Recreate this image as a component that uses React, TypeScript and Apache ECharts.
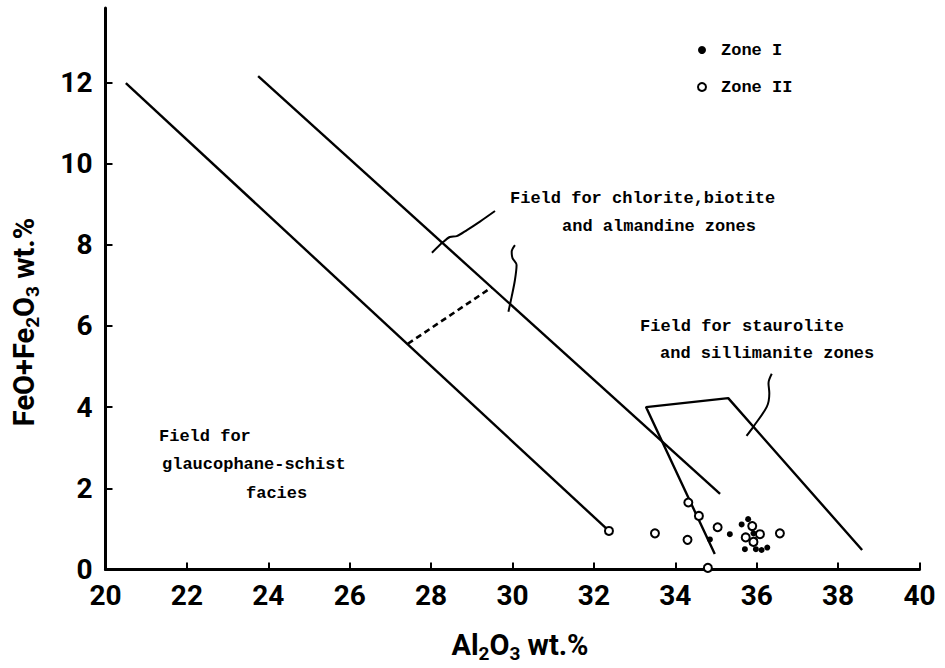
import React, { useEffect, useRef } from "react";
import * as echarts from "echarts";

// ---- data (Al2O3 wt.%, FeO+Fe2O3 wt.%) ----
const yTickValues = [0, 2, 4, 6, 8, 10, 12];

const zoneI: [number, number][] = [
  [34.85, 0.74],
  [35.34, 0.87],
  [35.63, 1.11],
  [35.79, 1.24],
  [35.95, 0.73],
  [35.92, 0.89],
  [35.71, 0.5],
  [35.98, 0.5],
  [36.12, 0.48],
  [36.26, 0.54],
];

const zoneII: [number, number][] = [
  [32.37, 0.95],
  [33.5, 0.89],
  [34.32, 1.65],
  [34.58, 1.32],
  [34.3, 0.73],
  [35.04, 1.04],
  [34.8, 0.04],
  [36.57, 0.89],
  [35.89, 1.07],
  [36.08, 0.87],
  [35.73, 0.79],
  [35.92, 0.68],
];

const glaucophaneBoundary: [number, number][] = [
  [20.5, 11.98],
  [32.37, 0.95],
];
const chloriteBoundary: [number, number][] = [
  [23.75, 12.15],
  [35.1, 1.86],
];
const dashedTie: [number, number][] = [
  [27.43, 5.56],
  [29.49, 6.95],
];
const stauroliteField: [number, number][] = [
  [34.97, 0.38],
  [33.28, 4.0],
  [35.3, 4.22],
  [38.59, 0.48],
];
const leaderChloriteA: [number, number][] = [
  [29.57, 8.83],
  [29.2, 8.57],
  [28.88, 8.36],
  [28.63, 8.21],
  [28.46, 8.19],
  [28.3, 8.07],
  [28.02, 7.8],
];
const leaderChloriteB: [number, number][] = [
  [30.06, 7.99],
  [29.98, 7.83],
  [30.0, 7.67],
  [30.1, 7.5],
  [30.06, 7.13],
  [29.98, 6.72],
  [29.9, 6.35],
];
const leaderStaurolite: [number, number][] = [
  [36.37, 4.82],
  [36.29, 4.59],
  [36.31, 4.34],
  [36.25, 4.01],
  [35.92, 3.52],
  [35.75, 3.29],
];

const MONO = '"Liberation Mono", "DejaVu Sans Mono", monospace';
const SANS = 'Roboto, "DejaVu Sans", sans-serif';

function plainLine(name: string, data: [number, number][], width: number, extraStyle: any = {}, smooth: any = false) {
  return {
    name,
    type: "line",
    data,
    smooth,
    showSymbol: false,
    symbol: "none",
    silent: true,
    z: 2,
    lineStyle: { color: "#000", width, ...extraStyle },
  };
}

export default function App() {
  const ref = useRef<HTMLDivElement>(null);
  useEffect(() => {
    if (!ref.current) return;
    const chart = echarts.init(ref.current, null, { renderer: "svg" });
    const monoText = (text: string, x: number, y: number) => ({
      type: "text",
      x,
      y,
      style: {
        text,
        font: `bold 17px ${MONO}`,
        fill: "#000",
        verticalAlign: "middle",
      },
    });
    const titleRich = {
      a: { fontFamily: SANS, fontSize: 29, fontWeight: "bold", fill: "#000", lineHeight: 36 },
      s: { fontFamily: SANS, fontSize: 19, fontWeight: "bold", fill: "#000", lineHeight: 20, verticalAlign: "bottom" },
    };
    chart.setOption({
      animation: false,
      backgroundColor: "#fff",
      grid: { left: 105.5, right: 25.5, top: 8, bottom: 98.5 },
      xAxis: {
        type: "value",
        min: 20,
        max: 40,
        interval: 2,
        axisLine: { lineStyle: { color: "#000", width: 3 } },
        axisTick: { inside: true, length: 7, lineStyle: { color: "#000", width: 2 } },
        axisLabel: { margin: 12, fontFamily: SANS, fontSize: 28, fontWeight: "bold", color: "#000" },
        splitLine: { show: false },
      },
      yAxis: {
        type: "value",
        min: 0,
        max: 13.83,
        interval: 2,
        axisLine: { show: true, lineStyle: { color: "#000", width: 3 } },
        axisTick: {
          show: true,
          inside: true,
          length: 7,
          customValues: yTickValues,
          lineStyle: { color: "#000", width: 2 },
        },
        axisLabel: {
          margin: 13,
          customValues: yTickValues,
          fontFamily: SANS,
          fontSize: 28,
          fontWeight: "bold",
          color: "#000",
        },
        splitLine: { show: false },
      },
      legend: {
        orient: "vertical",
        left: 692,
        top: 35,
        itemWidth: 28,
        itemHeight: 8,
        itemGap: 17,
        data: ["Zone I", "Zone II"],
        textStyle: { fontFamily: MONO, fontWeight: "bold", fontSize: 17, color: "#000", lineHeight: 20 },
      },
      series: [
        plainLine("glaucophane boundary", glaucophaneBoundary, 2.4),
        plainLine("chlorite boundary", chloriteBoundary, 2.4),
        plainLine("tie", dashedTie, 2.6, { type: [6, 4] }),
        plainLine("staurolite field", stauroliteField, 2.4),
        plainLine("leader1", leaderChloriteA, 2, {}, 0.3),
        plainLine("leader2", leaderChloriteB, 2, {}, 0.3),
        plainLine("leader3", leaderStaurolite, 2, {}, 0.3),
        {
          name: "Zone I",
          type: "scatter",
          data: zoneI,
          symbol: "circle",
          symbolSize: 6,
          z: 5,
          itemStyle: { color: "#000", opacity: 1 },
        },
        {
          name: "Zone II",
          type: "scatter",
          data: zoneII,
          symbol: "circle",
          symbolSize: 8,
          z: 6,
          itemStyle: { color: "#fff", borderColor: "#000", borderWidth: 2, opacity: 1 },
        },
      ],
      graphic: [
        monoText("Field for chlorite,biotite", 510, 198),
        monoText("and almandine zones", 562, 226),
        monoText("Field for staurolite", 640, 326),
        monoText("and sillimanite zones", 660, 353),
        monoText("Field for", 159, 436),
        monoText("glaucophane-schist", 162, 464),
        monoText("facies", 246, 493),
        {
          type: "text",
          x: 520,
          y: 645,
          style: {
            text: "{a|Al}{s|2}{a|O}{s|3}{a| wt.%}",
            align: "center",
            verticalAlign: "middle",
            rich: titleRich,
          },
        },
        {
          type: "text",
          x: 24,
          y: 322,
          rotation: Math.PI / 2,
          style: {
            text: "{a|FeO+Fe}{s|2}{a|O}{s|3}{a| wt.%}",
            align: "center",
            verticalAlign: "middle",
            rich: titleRich,
          },
        },
      ],
    });
    return () => chart.dispose();
  }, []);
  return (
    <div
      ref={ref}
      style={{ position: "fixed", left: 0, top: 0, width: 945, height: 668, background: "#fff" }}
    />
  );
}
